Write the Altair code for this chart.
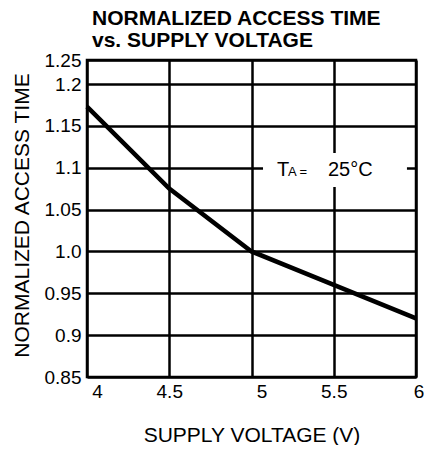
import altair as alt
import pandas as pd

# ---- data ----
voltage = [4.0, 4.5, 5.0, 5.5, 6.0]
access_time = [1.173, 1.075, 1.0, 0.96, 0.92]

x_ticks = [4.0, 4.5, 5.0, 5.5, 6.0]
x_labels = ["4", "4.5", "5", "5.5", "6"]
y_ticks = [0.85, 0.9, 0.95, 1.0, 1.05, 1.1, 1.15, 1.2, 1.2287]
y_labels = ["0.85", "0.9", "0.95", "1.0", "1.05", "1.1", "1.15", "1.2", "1.25"]

X_DOMAIN = [4.0, 6.0]
Y_DOMAIN = [0.85, 1.2287]

# annotation (data coordinates)
note_box_x = [5.07]
note_box_x2 = [5.945]
note_box_y = [1.077]
note_box_y2 = [1.1176]
note_text = ["T", "A =", "25°C"]
note_x = [5.155, 5.222, 5.465]
note_y = [1.0901, 1.0901, 1.0901]
note_size = [20, 13, 20]

FONT = "Liberation Sans"
W, H = 329, 317


def label_expr(ticks, labels):
    parts = [f"abs(datum.value - {t}) < 0.001 ? '{l}' : " for t, l in zip(ticks, labels)]
    return "".join(parts) + "''"


xs = alt.Scale(domain=X_DOMAIN, nice=False, zero=False)
ys = alt.Scale(domain=Y_DOMAIN, nice=False, zero=False)

x_axis = alt.Axis(
    values=x_ticks, labelExpr=label_expr(x_ticks, x_labels),
    title="SUPPLY VOLTAGE (V)", grid=True, gridColor="black", gridWidth=2.5, gridOpacity=1,
    ticks=False, domain=False, labelFont=FONT, labelFontSize=19, labelColor="black",
    labelPadding=5, labelFlush=False, labelOverlap=False,
    labelOffset={"condition": [
        {"test": "datum.value >= 5.9", "value": 2.5},
        {"test": "datum.value % 1 === 0", "value": 10},
    ], "value": 0},
    titleFont=FONT, titleFontSize=21, titleFontWeight="normal", titleColor="black",
    titleX=W / 2, titleY=58, titleBaseline="middle", titleAlign="center",
)
y_axis = alt.Axis(
    values=y_ticks, labelExpr=label_expr(y_ticks, y_labels),
    title="NORMALIZED ACCESS TIME", grid=True, gridColor="black", gridWidth=2.5, gridOpacity=1,
    ticks=False, domain=False, labelFont=FONT, labelFontSize=19, labelColor="black",
    labelPadding=6, labelFlush=False, labelOverlap=False, labelBaseline="middle",
    titleFont=FONT, titleFontSize=21, titleFontWeight="normal", titleColor="black",
    titleX=-65, titleY=155, titleAngle=-90, titleBaseline="middle", titleAlign="center",
)

df = pd.DataFrame({"v": voltage, "t": access_time})
line = alt.Chart(df).mark_line(
    color="black", strokeWidth=4.5, strokeJoin="miter", strokeCap="butt"
).encode(
    x=alt.X("v:Q", scale=xs, axis=x_axis),
    y=alt.Y("t:Q", scale=ys, axis=y_axis),
)

box_df = pd.DataFrame({"x1": note_box_x, "x2": note_box_x2, "y1": note_box_y, "y2": note_box_y2})
box = alt.Chart(box_df).mark_rect(fill="white").encode(
    x=alt.X("x1:Q", scale=xs, axis=x_axis),
    x2="x2:Q",
    y=alt.Y("y1:Q", scale=ys, axis=y_axis),
    y2="y2:Q",
)

txt_df = pd.DataFrame({"x": note_x, "y": note_y, "label": note_text, "size": note_size})
txt = alt.Chart(txt_df).mark_text(
    font=FONT, color="black", align="left", baseline="alphabetic"
).encode(
    x=alt.X("x:Q", scale=xs, axis=x_axis),
    y=alt.Y("y:Q", scale=ys, axis=y_axis),
    text="label:N",
    size=alt.Size("size:Q", scale=None, legend=None),
)

chart = alt.layer(line, box, txt).properties(
    width=W, height=H,
    title=alt.TitleParams(
        text=["NORMALIZED ACCESS TIME", "vs. SUPPLY VOLTAGE"],
        anchor="start", frame="group", dx=5, offset=0, lineHeight=22,
        font=FONT, fontSize=21, fontWeight="bold", color="black",
    ),
    autosize=alt.AutoSizeParams(type="none"),
    padding={"left": 79, "top": 52, "right": 8, "bottom": 68},
).configure(
    background="white"
).configure_view(
    stroke="black", strokeWidth=2.5
)

chart.save("out.html", embed_options={"renderer": "svg", "actions": False})
